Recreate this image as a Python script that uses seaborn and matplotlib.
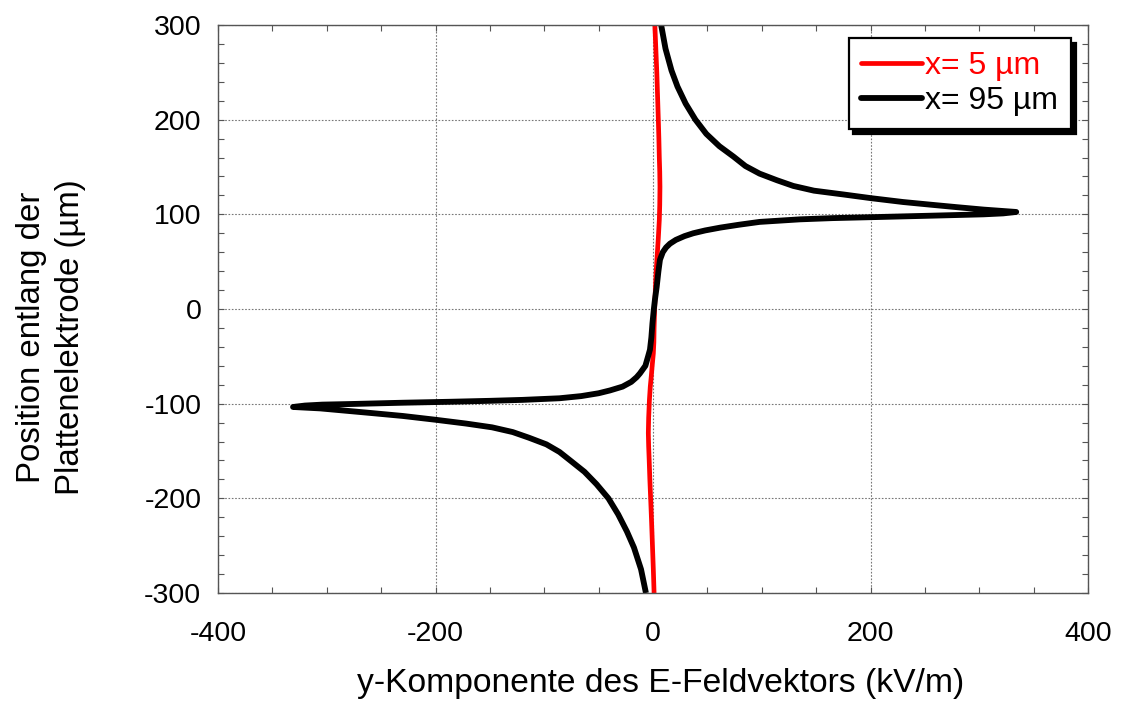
import numpy as np
import pandas as pd
import matplotlib
matplotlib.use("Agg")
import matplotlib.pyplot as plt
from matplotlib.ticker import MultipleLocator
from matplotlib.lines import Line2D
import seaborn as sns

# ---- data ----
# x = 95 µm (black): E-field y-component (kV/m) along the electrode position (µm)
pos_95 = [-300, -275, -252, -235, -217, -200, -185, -172, -161, -151, -143, -136, -130, -125,
          -121, -117, -113, -110, -107.5, -105, -103.5,
          -102, -101, -100.4, -99, -98, -97, -96, -94.3, -92, -89, -86, -82, -77, -72, -68,
          -60, -50, -43, -30, -15, 0, 10, 23.5, 40, 52, 60, 65, 69, 73, 77, 80, 83, 86, 89,
          92, 94.7, 96, 97, 98.6, 100, 101, 102.5,
          103.5, 105, 107.5, 110, 113, 117, 121, 125, 130, 136, 143, 151, 161, 172, 185,
          200, 217, 235, 252, 275, 300]
e_95 = [-6.5, -11, -17.5, -24, -32, -41, -52, -63, -75, -86, -98, -114, -129, -148,
        -172, -200, -230, -258, -282, -306, -331,
        -320, -304, -279, -230, -187, -150, -120, -86, -66, -50, -39.5, -28, -20, -15, -12,
        -7, -4.5, -2.8, -1.5, -0.5, 0.8, 1.8, 3.4, 5, 6.4, 9, 12, 15.6, 21, 29, 37, 48, 62, 79,
        98, 135, 165, 201, 257, 304, 322, 334,
        322, 304, 280, 257, 230, 201, 175, 148, 129, 114, 98, 85, 74, 61, 49,
        39, 30, 22.5, 17, 11.5, 7.5]

# x = 5 µm (red)
pos_5 = [-300, -275, -250, -225, -202, -180, -160, -145, -131, -115, -96, -82, -70, -58, -47,
         -35, -20, 0, 15, 30, 45, 59, 75, 94, 110, 129, 145, 160, 180, 200, 225, 250, 275, 300]
e_5 = [1, 0.3, -0.5, -1.3, -2.1, -2.9, -3.5, -4.0, -4.3, -4.0, -3.3, -2.5, -1.5, -0.6, 0.3,
       0.8, 1.0, 1.5, 2.0, 2.5, 3.2, 4, 4.9, 5.8, 6.2, 6.4, 6.2, 5.8, 5.4, 4.9, 4.2, 3.5, 2.6, 1.7]

labels = ["x= 5 µm", "x= 95 µm"]
colors = ["#ff0000", "#000000"]

x_ticks = [-400, -200, 0, 200, 400]
y_ticks = [-300, -200, -100, 0, 100, 200, 300]

df = pd.concat([
    pd.DataFrame({"E": e_5, "pos": pos_5, "series": labels[0]}),
    pd.DataFrame({"E": e_95, "pos": pos_95, "series": labels[1]}),
], ignore_index=True)

sns.set_style("ticks")
plt.rcParams["font.family"] = ["Liberation Sans", "DejaVu Sans"]
plt.rcParams["axes.unicode_minus"] = False
plt.rcParams["text.color"] = "black"
plt.rcParams["axes.labelcolor"] = "black"

fig = plt.figure(figsize=(11.22, 7.05), dpi=100)
ax = fig.add_axes([218 / 1122, 1 - 593 / 705, (1088 - 218) / 1122, (593 - 25) / 705])

sns.lineplot(data=df, x="E", y="pos", hue="series", hue_order=labels,
             palette=dict(zip(labels, colors)), sort=False, estimator=None,
             units="series", ax=ax, legend=False)
for line, lw in zip(ax.get_lines(), [3.4, 4.2]):
    line.set_linewidth(lw)
    line.set_solid_capstyle("butt")
    line.set_solid_joinstyle("round")

ax.set_xlim(-400, 400)
ax.set_ylim(-300, 300)
ax.set_xticks(x_ticks)
ax.set_yticks(y_ticks)
ax.xaxis.set_minor_locator(MultipleLocator(50))
ax.yaxis.set_minor_locator(MultipleLocator(20))
ax.tick_params(which="both", direction="in", top=True, right=True,
               length=4, width=0.8, color="#555555", labelcolor="black")
ax.tick_params(axis="x", which="major", labelsize=20.5, pad=20)
ax.tick_params(axis="y", which="major", labelsize=20.5, pad=12)
ax.grid(True, which="major", color="#777777", linestyle=(0, (1.5, 1.5)), linewidth=0.8)
for s in ax.spines.values():
    s.set_color("#555555")
    s.set_linewidth(1.0)

ax.set_xlabel("y-Komponente des E-Feldvektors (kV/m)", fontsize=24.2)
ax.xaxis.set_label_coords(0.509, -0.132)
ax.set_ylabel("Position entlang der\nPlattenelektrode (µm)", fontsize=23.8,
              linespacing=1.32)
ax.yaxis.set_label_coords(-0.152, 0.45)

handles = [Line2D([], [], color=colors[0], lw=3.4), Line2D([], [], color=colors[1], lw=4.2)]
leg = ax.legend(handles, labels, loc="upper right", bbox_to_anchor=(0.9805, 0.977),
                fontsize=23, frameon=True, fancybox=False, framealpha=1,
                edgecolor="black", handlelength=1.9, handletextpad=0.1,
                borderpad=0.4, labelspacing=0.16, borderaxespad=0,
                shadow={"color": "black", "alpha": 1, "ox": 3.5, "oy": -3.5})
leg.get_frame().set_linewidth(1.6)
leg.get_texts()[0].set_color(colors[0])

fig.savefig("out.png", dpi=100)
